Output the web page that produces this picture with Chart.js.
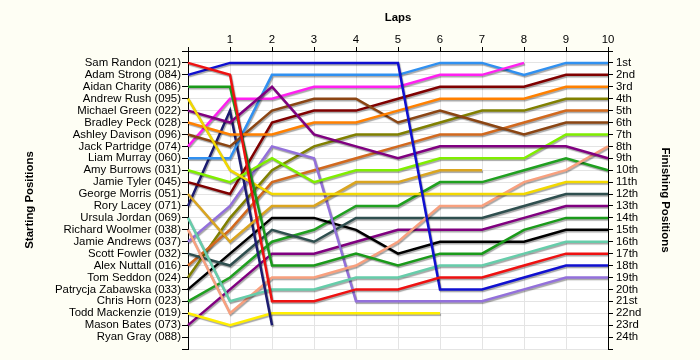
<!DOCTYPE html>
<html><head><meta charset="utf-8">
<script src="https://cdn.jsdelivr.net/npm/chart.js@4/dist/chart.umd.min.js"></script>
<style>html,body{margin:0;padding:0;background:#fefef4;}canvas{display:block}</style>
</head><body>
<canvas id="c" width="700" height="360"></canvas>
<script>
// ---- data ----
const laps = ['0','1','2','3','4','5','6','7','8','9','10'];
const drivers = ['Sam Randon (021)','Adam Strong (084)','Aidan Charity (086)','Andrew Rush (095)','Michael Green (022)','Bradley Peck (028)','Ashley Davison (096)','Jack Partridge (074)','Liam Murray (060)','Amy Burrows (031)','Jamie Tyler (045)','George Morris (051)','Rory Lacey (071)','Ursula Jordan (069)','Richard Woolmer (038)','Jamie Andrews (037)','Scott Fowler (032)','Alex Nuttall (016)','Tom Seddon (024)','Patrycja Zabawska (033)','Chris Horn (023)','Todd Mackenzie (019)','Mason Bates (073)','Ryan Gray (088)'];
const finishLabels = ['1st','2nd','3rd','4th','5th','6th','7th','8th','9th','10th','11th','12th','13th','14th','15th','16th','17th','18th','19th','20th','21st','22nd','23rd','24th'];

const samRandon      = [1,2,21,21,20,20,19,19,18,17,17];
const adamStrong     = [2,1,1,1,1,1,20,20,19,18,18];
const aidanCharity   = [3,3,18,18,17,18,17,17,15,14,14];
const andrewRush     = [4,10,12,12,12,12,12,12,12,11,11];
const michaelGreen   = [5,6,3,7,8,9,8,8,8,8,9];
const bradleyPeck    = [6,7,7,6,6,5,4,4,4,3,3];
const ashleyDavison  = [7,8,5,4,4,6,5,6,7,6,6];
const jackPartridge  = [8,4,4,3,3,3,2,2,1,null,null];
const liamMurray     = [9,9,2,2,2,2,1,1,2,1,1];
const amyBurrows     = [10,11,9,11,10,10,9,9,9,7,7];
const jamieTyler     = [11,12,6,5,5,4,3,3,3,2,2];
const georgeMorris   = [12,16,13,13,11,11,10,10,null,null,null];
const roryLacey      = [13,5,23,null,null,null,null,null,null,null,null];
const ursulaJordan   = [14,21,20,20,19,19,18,18,17,16,16];
const richardWoolmer = [15,22,19,19,18,16,13,13,11,10,8];
const jamieAndrews   = [16,13,8,9,21,21,21,21,20,19,19];
const scottFowler    = [17,18,15,16,14,14,14,14,13,12,12];
const alexNuttall    = [18,15,11,10,9,8,7,7,6,5,5];
const tomSeddon      = [19,14,10,8,7,7,6,5,5,4,4];
const patrycjaZab    = [20,17,14,14,15,17,16,16,16,15,15];
const chrisHorn      = [21,19,16,15,13,13,11,11,10,9,10];
const toddMackenzie  = [22,23,22,22,22,22,22,null,null,null,null];
const masonBates     = [23,20,17,17,16,15,15,15,14,13,13];
const ryanGray       = [null,null,null,null,null,null,null,null,null,null,null];

const seriesList = [samRandon,adamStrong,aidanCharity,andrewRush,michaelGreen,bradleyPeck,ashleyDavison,jackPartridge,liamMurray,amyBurrows,jamieTyler,georgeMorris,roryLacey,ursulaJordan,richardWoolmer,jamieAndrews,scottFowler,alexNuttall,tomSeddon,patrycjaZab,chrisHorn,toddMackenzie,masonBates,ryanGray];
const colors = ['#ee1111','#1010d0','#1a9a1a','#f2d800','#800080','#ff8000','#8b4513','#ff20f0','#3090f0','#80ee00','#800000','#daa520','#1c1c70','#66cdaa','#f8a07e','#9370db','#2f4f4f','#d2691e','#808000','#000000','#20a020','#ffee00','#800080','#888888'];

// ---- plugins ----
const bgPlugin = {
  id:'bg',
  beforeDraw(chart){
    const {ctx, chartArea:a} = chart;
    ctx.save();
    ctx.fillStyle = '#fefef4';
    ctx.fillRect(0,0,chart.width,chart.height);
    ctx.fillStyle = '#ffffff';
    ctx.fillRect(a.left,a.top,a.right-a.left,a.bottom-a.top);
    ctx.restore();
  }
};
const shadowPlugin = {
  id:'shadow',
  beforeDatasetDraw(chart){
    const ctx = chart.ctx;
    ctx.save();
    ctx.shadowColor = 'rgba(0,0,0,0.35)';
    ctx.shadowOffsetX = 1;
    ctx.shadowOffsetY = 1.5;
    ctx.shadowBlur = 1;
  },
  afterDatasetDraw(chart){ chart.ctx.restore(); }
};

const font = {family:'"Liberation Sans", Arial, sans-serif', size:11.4};
const titleFont = {family:'"Liberation Sans", Arial, sans-serif', size:11.4, weight:'bold'};

new Chart(document.getElementById('c'), {
  type:'line',
  data:{
    labels: laps,
    datasets: seriesList.map((s,i)=>({
      label: drivers[i], data: s, borderColor: colors[i], backgroundColor: colors[i],
      borderWidth: 2.5, pointRadius: 0, tension: 0, spanGaps: false, yAxisID: 'y'
    }))
  },
  options:{
    responsive:false, animation:false,
    layout:{padding:{left:0,right:0,top:0,bottom:11}},
    plugins:{legend:{display:false}, tooltip:{enabled:false}},
    scales:{
      x:{
        type:'category', position:'top', offset:false,
        grid:{color:'#e4e4e4', tickColor:'#000', tickLength:4},
        border:{color:'#000'},
        ticks:{font, color:'#000', padding:0, autoSkip:false, maxRotation:0,
          callback:(v,i)=> i===0 ? '' : laps[i]},
        title:{display:true, text:'Laps', font:titleFont, color:'#000', padding:{top:11,bottom:0}},
        afterFit(s){ s.height = 51; }
      },
      y:{
        type:'linear', position:'left', reverse:true, min:0, max:25,
        grid:{color:'#e4e4e4', tickColor:'#000', tickLength:6},
        border:{color:'#000'},
        ticks:{font, color:'#000', stepSize:1, autoSkip:false, padding:1,
          callback:(v)=> (v>=1 && v<=24) ? drivers[v-1] : ''},
        title:{display:true, text:'Starting Positions', font:titleFont, color:'#000', padding:{top:23,bottom:0}},
        afterFit(s){ s.width = 188; }
      },
      y2:{
        type:'linear', position:'right', reverse:true, min:0, max:25,
        grid:{drawOnChartArea:false, tickColor:'#000', tickLength:5},
        border:{color:'#000'},
        ticks:{font, color:'#000', stepSize:1, autoSkip:false, padding:3,
          callback:(v)=> (v>=1 && v<=24) ? finishLabels[v-1] : ''},
        title:{display:true, text:'Finishing Positions', font:titleFont, color:'#000', padding:{top:28,bottom:0}},
        afterFit(s){ s.width = 92; }
      }
    }
  },
  plugins:[bgPlugin, shadowPlugin]
});
</script>
</body></html>
